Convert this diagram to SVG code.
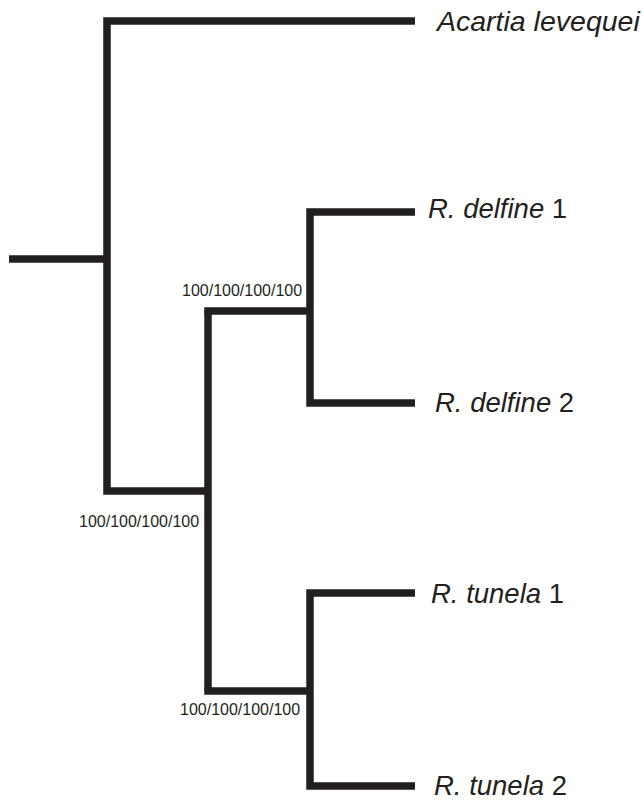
<svg xmlns="http://www.w3.org/2000/svg" width="644" height="800" viewBox="0 0 644 800">
<style>
.br{fill:none;stroke:#231f20;stroke-width:7.5;stroke-linejoin:miter;stroke-linecap:butt}
.tx{font-family:"Liberation Sans",Arial,sans-serif;fill:#231f20}
.sp{font-size:27.5px}
.sup{font-size:16px}
</style>
<rect width="644" height="800" fill="#fff"/>
<g id="connectors">
<path class="br" d="M9,259H107"/>
<path class="br" d="M415,21H107V491H208"/>
<path class="br" d="M208,311V691"/>
<path class="br" d="M204.25,311H310"/>
<path class="br" d="M415,212H310V403H415"/>
<path class="br" d="M204.25,691H310"/>
<path class="br" d="M415,593H310V786H415"/>
</g>
<g id="acartia"><text class="tx" x="437" y="31" font-size="28.5" font-style="italic">Acartia levequei</text></g>
<g id="delfine1"><text class="tx sp" x="428" y="218"><tspan font-style="italic">R. delfine</tspan> 1</text></g>
<g id="delfine2"><text class="tx sp" x="435" y="412"><tspan font-style="italic">R. delfine</tspan> 2</text></g>
<g id="tunela1"><text class="tx sp" x="431" y="603"><tspan font-style="italic">R. tunela</tspan> 1</text></g>
<g id="tunela2"><text class="tx sp" x="434" y="795"><tspan font-style="italic">R. tunela</tspan> 2</text></g>
<g id="support1"><text class="tx sup" x="182" y="296">100/100/100/100</text></g>
<g id="support2"><text class="tx sup" x="79" y="527">100/100/100/100</text></g>
<g id="support3"><text class="tx sup" x="180" y="715">100/100/100/100</text></g>
</svg>
